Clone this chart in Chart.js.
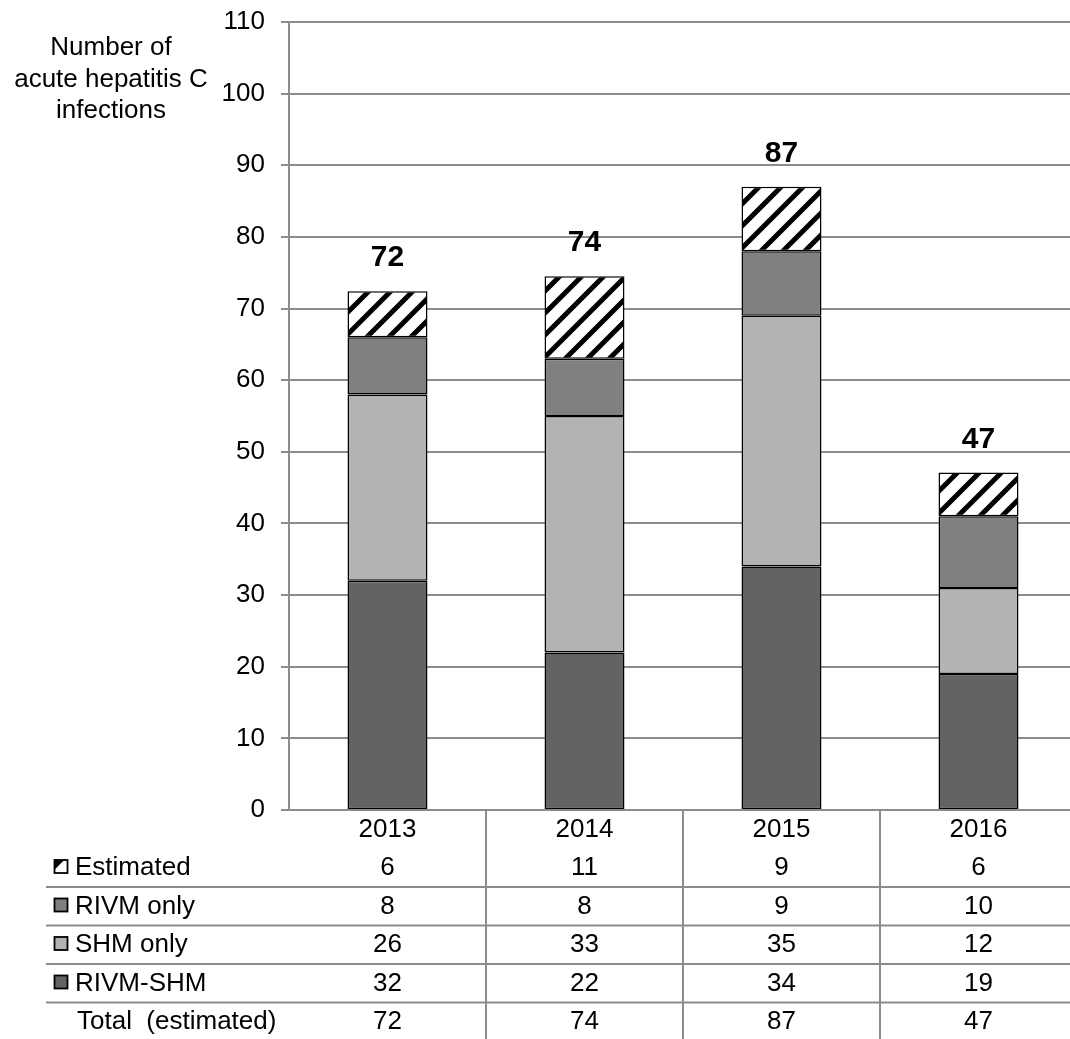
<!DOCTYPE html>
<html>
<head>
<meta charset="utf-8">
<script src="https://cdn.jsdelivr.net/npm/chart.js@4"></script>
<style>
  html, body { margin: 0; padding: 0; background: #fff; overflow: hidden; }
  #wrap { width: 1080px; height: 1039px; }
</style>
</head>
<body>
<div id="wrap"><canvas id="c" width="1080" height="1039"></canvas></div>
<script>
// ---- data ----
const years = ['2013', '2014', '2015', '2016'];
const rivmShm = [32, 22, 34, 19];
const shmOnly = [26, 33, 35, 12];
const rivmOnly = [8, 8, 9, 10];
const estimatedBar = [6.4, 11.5, 9, 6.1];
const estimatedTable = [6, 11, 9, 6];
const totals = [72, 74, 87, 47];
const yTicks = { min: 0, max: 110, step: 10 };
const titleLines = ['Number of', 'acute hepatitis C', 'infections'];
const rowNames = ['Estimated', 'RIVM only', 'SHM only', 'RIVM-SHM', 'Total  (estimated)'];

const FONT = '"Liberation Sans", Arial, sans-serif';
const GRID = '#8c8c8c';
const colDark = '#636363', colLight = '#b3b3b3', colMid = '#808080';

function hatch() {
  const s = 22;
  const c = document.createElement('canvas');
  c.width = s; c.height = s;
  const g = c.getContext('2d');
  g.fillStyle = '#fff'; g.fillRect(0, 0, s, s);
  g.strokeStyle = '#000'; g.lineWidth = 5;
  g.beginPath();
  g.moveTo(-2, s + 2); g.lineTo(s + 2, -2);
  g.moveTo(-2, 2); g.lineTo(2, -2);
  g.moveTo(s - 2, s + 2); g.lineTo(s + 2, s - 2);
  g.stroke();
  return g.createPattern(c, 'repeat');
}
const ctxMain = document.getElementById('c').getContext('2d');
const hatchPattern = hatch();

const overlay = {
  id: 'overlay',
  afterDraw(chart) {
    const ctx = chart.ctx;
    const xs = chart.scales.x, ys = chart.scales.y;
    const W = chart.width;
    ctx.save();
    // title
    ctx.fillStyle = '#000';
    ctx.font = '26px ' + FONT;
    ctx.textAlign = 'center';
    ctx.textBaseline = 'alphabetic';
    titleLines.forEach((t, i) => ctx.fillText(t, 111, 55 + i * 31.5));

    // data labels
    ctx.font = 'bold 30px ' + FONT;
    years.forEach((y, i) => {
      const top = rivmShm[i] + shmOnly[i] + rivmOnly[i] + estimatedBar[i];
      ctx.fillText(String(totals[i]), xs.getPixelForValue(i), ys.getPixelForValue(top) - 25);
    });

    // table
    const cx = years.map((_, i) => xs.getPixelForValue(i));
    const step = cx[1] - cx[0];
    ctx.strokeStyle = GRID; ctx.lineWidth = 2;
    for (let i = 1; i < years.length; i++) {
      const bx = cx[i] - step / 2;
      ctx.beginPath(); ctx.moveTo(bx, ys.bottom); ctx.lineTo(bx, chart.height); ctx.stroke();
    }
    for (let r = 0; r < 4; r++) {
      const ly = 887 + r * 38.5;
      ctx.beginPath(); ctx.moveTo(46, ly); ctx.lineTo(W, ly); ctx.stroke();
    }
    ctx.font = '26px ' + FONT;
    ctx.fillStyle = '#000';
    ctx.textAlign = 'center';
    years.forEach((y, i) => ctx.fillText(y, cx[i], 837));
    const rows = [estimatedTable, rivmOnly, shmOnly, rivmShm, totals];
    const keyFill = [null, colMid, colLight, colDark, undefined];
    rows.forEach((vals, r) => {
      const by = 875 + r * 38.5;
      ctx.textAlign = 'center';
      vals.forEach((v, i) => ctx.fillText(String(v), cx[i], by));
      ctx.textAlign = 'left';
      if (r < 4) {
        const kx = 54.5, ky = by - 15, ks = 13;
        ctx.fillStyle = r === 0 ? '#fff' : keyFill[r];
        ctx.fillRect(kx, ky, ks, ks);
        if (r === 0) {
          ctx.fillStyle = '#000';
          ctx.beginPath(); ctx.moveTo(kx, ky); ctx.lineTo(kx + ks * 0.75, ky); ctx.lineTo(kx, ky + ks * 0.75); ctx.closePath(); ctx.fill();
        }
        ctx.strokeStyle = '#000'; ctx.lineWidth = 1.8;
        ctx.strokeRect(kx, ky, ks, ks);
        ctx.fillStyle = '#000';
        ctx.fillText(rowNames[r], 75, by);
      } else {
        ctx.fillText(rowNames[r], 77, by);
      }
    });
    ctx.restore();
  }
};

const common = { borderColor: '#000', borderWidth: 1.5, borderSkipped: false, inflateAmount: 0, categoryPercentage: 1, barPercentage: 0.406 };

new Chart(ctxMain, {
  type: 'bar',
  data: {
    labels: years,
    datasets: [
      Object.assign({ label: 'RIVM-SHM', data: rivmShm, backgroundColor: colDark }, common),
      Object.assign({ label: 'SHM only', data: shmOnly, backgroundColor: colLight }, common),
      Object.assign({ label: 'RIVM only', data: rivmOnly, backgroundColor: colMid }, common),
      Object.assign({ label: 'Estimated', data: estimatedBar, backgroundColor: hatchPattern }, common)
    ]
  },
  options: {
    responsive: false,
    animation: false,
    devicePixelRatio: 1,
    layout: { padding: { top: 22, bottom: 229, right: 3, left: 0 } },
    plugins: { legend: { display: false }, tooltip: { enabled: false } },
    scales: {
      x: { stacked: true, display: false },
      y: {
        stacked: true,
        min: yTicks.min, max: yTicks.max,
        ticks: { stepSize: yTicks.step, color: '#000', font: { size: 26, family: FONT }, padding: 16 },
        grid: { color: GRID, lineWidth: 2, tickLength: 8, drawTicks: true },
        border: { color: GRID, width: 2 },
        afterFit(s) { s.width = 289; s.paddingTop = 0; s.paddingBottom = 0; }
      }
    }
  },
  plugins: [overlay]
});
</script>
</body>
</html>
